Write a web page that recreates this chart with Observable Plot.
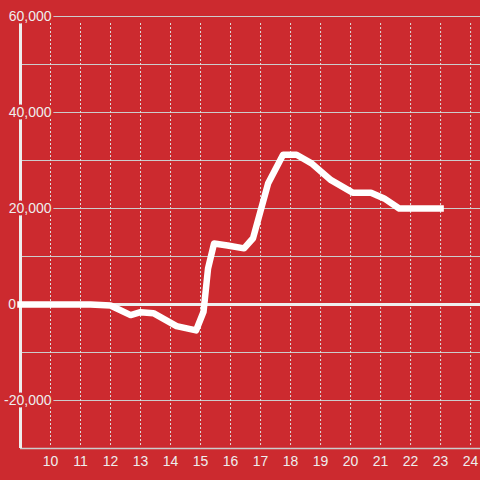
<!DOCTYPE html>
<html>
<head>
<meta charset="utf-8">
<script src="https://cdn.jsdelivr.net/npm/d3@7"></script>
<script src="https://cdn.jsdelivr.net/npm/@observablehq/plot@0.6"></script>
<style>
  html, body { margin: 0; padding: 0; background: #cc2a2f; }
</style>
</head>
<body>
<div id="chart"></div>
<script>
const hours  = [9, 11.33, 12, 12.67, 13.0, 13.43, 14.2, 14.85, 15.1, 15.25, 15.45, 15.9, 16.45, 16.75, 17.25, 17.75, 18.2, 18.7, 19.35, 20.07, 20.68, 21.12, 21.62, 23.0];
const values = [0, 0, -200, -2200, -1600, -1800, -4500, -5400, -1500, 7500, 12700, 12300, 11700, 13800, 25200, 31200, 31200, 29400, 25900, 23300, 23300, 22100, 20000, 20000];
const xTicks = [10, 11, 12, 13, 14, 15, 16, 17, 18, 19, 20, 21, 22, 23, 24];
const yLabelTicks = [-20000, 20000, 40000, 60000];
const yZeroTick = [0];
const yGridTicks = [-20000, -10000, 10000, 20000, 30000, 40000, 50000, 60000];
const xDomain = [9, 24.33];
const yDomain = [-30000, 60000];

const data = hours.map((h, i) => ({h, v: values[i]}));
const bg = "#cc2a2f";
const fmt = d => d.toLocaleString("en-US");

const chart = Plot.plot({
  width: 480,
  height: 480,
  marginTop: 16,
  marginLeft: 20,
  marginRight: 0,
  marginBottom: 32,
  style: {background: bg, color: "#eeeeee", fontFamily: "'Liberation Sans', Arial, sans-serif", fontSize: "14px"},
  x: {domain: xDomain, axis: null},
  y: {domain: yDomain, axis: null},
  marks: [
    Plot.gridY({ticks: yGridTicks, stroke: "#cccccc", strokeOpacity: 1, strokeWidth: 1}),
    Plot.gridX({ticks: xTicks, stroke: "#dddddd", strokeOpacity: 1, strokeDasharray: "2,2", insetTop: 7, insetBottom: 3}),
    Plot.ruleY([yDomain[0]], {stroke: "#cccccc", strokeWidth: 1.5}),
    Plot.ruleY([0], {stroke: "#eeeeee", strokeWidth: 3}),
    Plot.ruleX([xDomain[0]], {stroke: "#eeeeee", strokeWidth: 3}),
    Plot.text(yLabelTicks, {
      x: () => xDomain[0], y: d => d, text: fmt,
      textAnchor: "end", dx: 31, fill: "#eeeeee", fontSize: 14,
      stroke: bg, strokeWidth: 5, paintOrder: "stroke"
    }),
    Plot.text(yZeroTick, {
      x: () => xDomain[0], y: d => d, text: fmt,
      textAnchor: "end", dx: -4.5, fill: "#eeeeee", fontSize: 14,
      stroke: bg, strokeWidth: 4, paintOrder: "stroke"
    }),
    Plot.line(data, {x: "h", y: "v", stroke: "white", strokeWidth: 6.5, strokeLinecap: "square", strokeLinejoin: "round"}),
    Plot.axisX({ticks: xTicks, tickSize: 0, tickPadding: 8, fontSize: 14, fill: "#eeeeee", label: null})
  ]
});
document.getElementById("chart").append(chart);
</script>
</body>
</html>
